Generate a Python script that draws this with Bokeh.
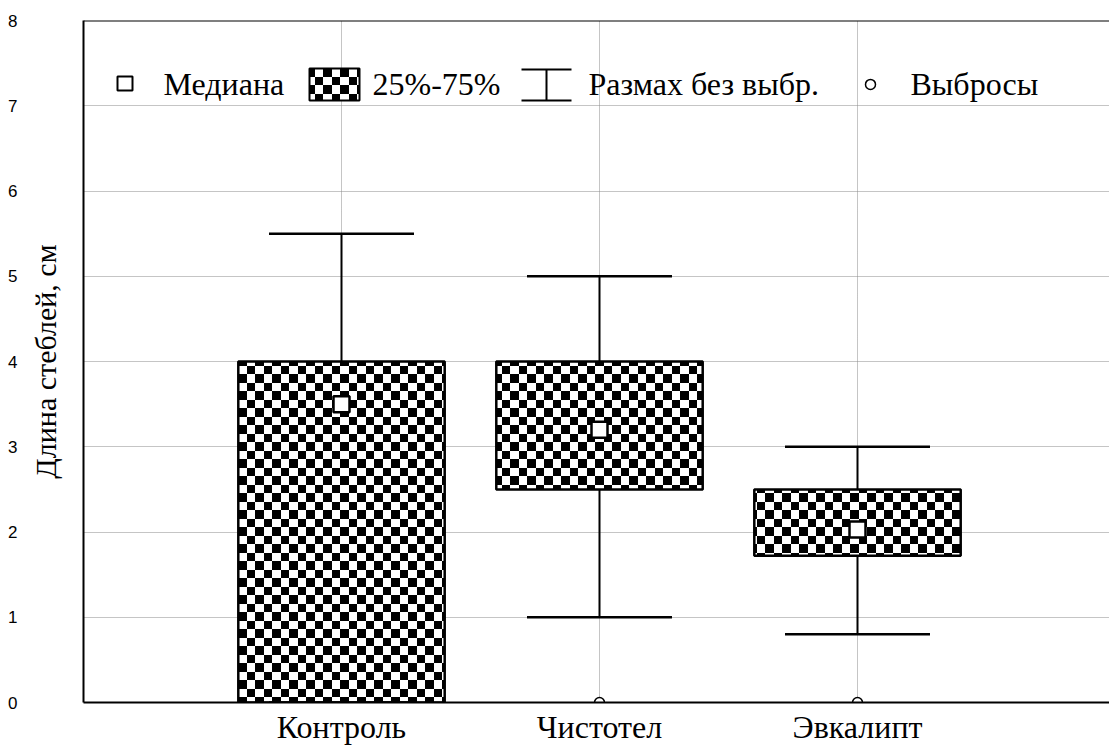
import zlib, struct, base64
from bokeh.plotting import figure
from bokeh.models import (Range1d, LinearAxis, FixedTicker, ColumnDataSource, ImageURLTexture,
                          Label, BoxAnnotation, Arrow, TeeHead, Span)
from bokeh.embed import file_html
from bokeh.resources import INLINE

# ---------------- data ----------------
categories = ["Контроль", "Чистотел", "Эвкалипт"]
medians = [3.5, 3.2, 2.03]
q1 = [0.0, 2.5, 1.72]
q3 = [4.0, 4.0, 2.5]
whisker_low = [0.0, 1.0, 0.8]
whisker_high = [5.5, 5.0, 3.0]
outlier_cats = ["Чистотел", "Эвкалипт"]
outlier_vals = [0.0, 0.0]
y_ticks = [0, 1, 2, 3, 4, 5, 6, 7, 8]
y_title = "Длина стеблей, см"
legend_labels = ["Медиана", "25%-75%", "Размах без выбр.", "Выбросы"]

# ---------------- layout / style ----------------
W, H = 1109, 747
FRAME_L, FRAME_R, FRAME_T, FRAME_B = 83, 1109, 20, 703
X_END = (FRAME_R - FRAME_L) / 258.0
PX_X = (FRAME_R - FRAME_L) / X_END
PX_Y = (FRAME_B - FRAME_T) / 8.0
BOX_W = 0.8
CAP_HALF = 0.281
SERIF = "Liberation Serif"


def dx(px):
    return (px - FRAME_L) / PX_X


def dy(py):
    return (FRAME_B - py) / PX_Y


def checker_url(a=9, b=8):
    n = a + b
    rows = []
    for yy in range(n):
        ry = 0 if yy < a else 1
        row = bytearray([0])
        for xx in range(n):
            rx = 0 if xx < a else 1
            row.append(0 if (rx ^ ry) == 0 else 255)
        rows.append(bytes(row))
    raw = b"".join(rows)

    def chunk(t, d):
        c = struct.pack(">I", len(d)) + t + d
        return c + struct.pack(">I", zlib.crc32(t + d) & 0xffffffff)

    png = (b"\x89PNG\r\n\x1a\n" + chunk(b"IHDR", struct.pack(">IIBBBBB", n, n, 8, 0, 0, 0, 0))
           + chunk(b"IDAT", zlib.compress(raw)) + chunk(b"IEND", b""))
    return "data:image/png;base64," + base64.b64encode(png).decode()


CHECK_URL = checker_url()


def checker():
    return {"checker": ImageURLTexture(url=CHECK_URL, repetition="repeat")}


xs = [i + 1 for i in range(len(categories))]
src = ColumnDataSource(dict(
    x=xs, med=medians, q1=q1, q3=q3, lo=whisker_low, hi=whisker_high,
    cl=[x - CAP_HALF for x in xs], cr=[x + CAP_HALF for x in xs]))
out_src = ColumnDataSource(dict(
    x=[categories.index(c) + 1 for c in outlier_cats], y=outlier_vals))

p = figure(width=W, height=H, output_backend="svg", toolbar_location=None,
           x_range=Range1d(0, X_END), y_range=Range1d(0, 8),
           min_border_left=FRAME_L, min_border_right=W - FRAME_R,
           min_border_top=FRAME_T, min_border_bottom=H - FRAME_B)
p.outline_line_color = None
p.background_fill_color = "white"
p.border_fill_color = "white"

# top frame line
p.add_layout(Span(location=8, dimension="width", line_color="black", line_width=2))

# grids
p.xgrid.ticker = FixedTicker(ticks=xs)
p.ygrid.ticker = FixedTicker(ticks=y_ticks)
for g in (p.xgrid, p.ygrid):
    g.grid_line_color = "#8a8a8a"
    g.grid_line_dash = "1 1"
    g.grid_line_width = 1

# x axis
xa = p.xaxis[0]
xa.ticker = FixedTicker(ticks=xs)
xa.major_label_overrides = {x: c for x, c in zip(xs, categories)}
xa.major_label_text_font = SERIF
xa.major_label_text_font_size = "32px"
xa.major_label_text_color = "black"
xa.major_label_standoff = 6
xa.major_tick_out = 0
xa.major_tick_in = 0
xa.minor_tick_line_color = None
xa.axis_line_color = "black"
xa.axis_line_width = 2

# y axis (inner: title only)
ya = p.yaxis[0]
ya.ticker = FixedTicker(ticks=y_ticks)
ya.major_label_overrides = {t: "" for t in y_ticks}
ya.major_label_text_font_size = "1px"
ya.major_label_standoff = 0
ya.major_tick_out = 0
ya.major_tick_in = 0
ya.minor_tick_line_color = None
ya.axis_line_color = "black"
ya.axis_line_width = 2
ya.axis_label = y_title
ya.axis_label_text_font = SERIF
ya.axis_label_text_font_style = "normal"
ya.axis_label_text_font_size = "30px"
ya.axis_label_text_color = "black"
ya.axis_label_standoff = 22

# y axis (outer: tick numbers)
yb = LinearAxis(ticker=FixedTicker(ticks=y_ticks))
yb.axis_line_color = None
yb.major_tick_line_color = None
yb.minor_tick_line_color = None
yb.major_label_text_font = "Liberation Sans"
yb.major_label_text_font_size = "17px"
yb.major_label_text_color = "black"
yb.major_label_standoff = 2
p.add_layout(yb, "left")

# boxes (checker-filled), drawn beneath the glyphs
for x, lo_q, hi_q in zip(xs, q1, q3):
    p.add_layout(BoxAnnotation(left=x - BOX_W / 2, right=x + BOX_W / 2, bottom=lo_q, top=hi_q,
                               level="underlay",
                               fill_color="white", fill_alpha=1, line_color="black",
                               line_width=2.5, line_alpha=1,
                               hatch_pattern="checker", hatch_extra=checker(),
                               hatch_color="black", hatch_alpha=1))

# whiskers: stems outside the box, caps at the ends
p.segment(x0="x", y0="q3", x1="x", y1="hi", source=src, line_color="black", line_width=2)
p.segment(x0="x", y0="lo", x1="x", y1="q1", source=src, line_color="black", line_width=2)
p.segment(x0="cl", y0="hi", x1="cr", y1="hi", source=src, line_color="black", line_width=2.5)
p.segment(x0="cl", y0="lo", x1="cr", y1="lo", source=src, line_color="black", line_width=2.5)

# medians
p.scatter(x="x", y="med", source=src, marker="square", size=16,
          fill_color="white", line_color="black", line_width=2.5)

# outliers
p.scatter(x="x", y="y", source=out_src, marker="circle", size=10,
          fill_color="white", line_color="black", line_width=1.5)

# ---------------- legend (manual) ----------------
LEG_Y = 84
p.add_layout(BoxAnnotation(left=dx(117), right=dx(132), top=dy(76), bottom=dy(90),
                           fill_color="white", fill_alpha=1, line_color="black", line_width=2,
                           line_alpha=1))
p.add_layout(BoxAnnotation(left=dx(309), right=dx(359), top=dy(68), bottom=dy(100),
                           fill_color="white", fill_alpha=1, line_color="black", line_width=2,
                           line_alpha=1, hatch_pattern="checker", hatch_extra=checker(),
                           hatch_color="black", hatch_alpha=1))
p.add_layout(Arrow(x_start=dx(546), y_start=dy(100), x_end=dx(546), y_end=dy(69),
                   line_color="black", line_width=2,
                   start=TeeHead(size=50, line_color="black", line_width=2),
                   end=TeeHead(size=50, line_color="black", line_width=2)))
leg_keys = ColumnDataSource(dict(x=[dx(870)], y=[dy(LEG_Y)]))
p.scatter(x="x", y="y", source=leg_keys, marker="circle", size=10,
          fill_color="white", line_color="black", line_width=1.5)

for txt, px in zip(legend_labels, [163, 372, 588, 910]):
    p.add_layout(Label(x=dx(px), y=dy(LEG_Y), text=txt, text_font=SERIF,
                       text_font_size="32px", text_color="black", text_baseline="middle",
                       text_align="left"))

open("out.html", "w").write(file_html(p, INLINE))
